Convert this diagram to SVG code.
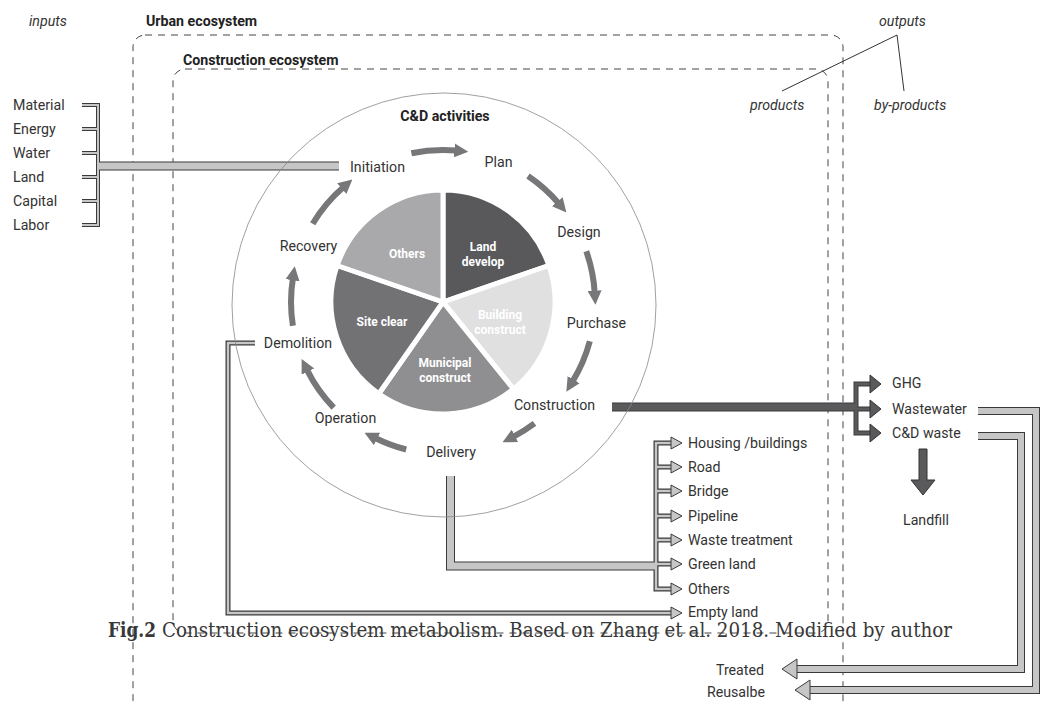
<svg xmlns="http://www.w3.org/2000/svg" width="1041" height="706" viewBox="0 0 1041 706">
<defs>
<style>
.t{font-family:Roboto,"Liberation Sans",sans-serif;font-size:14.2px;fill:#333}
.b{font-weight:bold;fill:#222}
.i{font-style:italic}
.m{text-anchor:middle}
.e{text-anchor:end}
.sl{font-family:Roboto,"Liberation Sans",sans-serif;font-size:12px;font-weight:bold;fill:#fff;text-anchor:middle}
.box{fill:none;stroke:#444;stroke-width:1;stroke-dasharray:7 6}
.dk{fill:none;stroke:#3a3a3a;stroke-linejoin:miter}
.lt{fill:none;stroke:#c6c6c6;stroke-linejoin:miter}
.dd{fill:none;stroke:#5a5a5c;stroke-linejoin:miter}
.arc{fill:none;stroke:#77777a;stroke-width:6;marker-end:url(#ah)}
.hl{fill:#c6c6c6;stroke:#3a3a3a;stroke-width:1}
.hd{fill:#5a5a5c;stroke:#333;stroke-width:1}
.cap{font-family:"DejaVu Serif Condensed","DejaVu Serif","Liberation Serif",serif;font-size:20.5px;fill:#383838}
</style>
<marker id="ah" viewBox="0 0 14 14" refX="2" refY="7" markerWidth="14" markerHeight="14" markerUnits="userSpaceOnUse" orient="auto">
<path d="M0,0 L14,7 L0,14 z" fill="#77777a"/>
</marker>
</defs>
<rect width="1041" height="706" fill="#fff"/>

<g id="boundaries">
<rect class="box" x="133" y="35" width="710" height="677" rx="12"/>
<rect class="box" x="173" y="69" width="655" height="564" rx="12"/>
<text class="t b" x="146" y="26">Urban ecosystem</text>
<text class="t b" x="183" y="65">Construction ecosystem</text>
<text class="t i" x="29" y="26">inputs</text>
<text class="t i" x="879" y="26">outputs</text>
<text class="t i" x="750" y="110">products</text>
<text class="t i" x="874" y="110">by-products</text>
<path d="M782,91 L897,35 L904,91" fill="none" stroke="#333" stroke-width="1"/>
</g>

<g id="connectors">
<path class="dk" stroke-width="4" d="M82,105 H98 V225 H82 M82,129 H98 M82,153 H98 M82,177 H98 M82,201 H98"/>
<path class="dk" stroke-width="9" d="M98,166 H339"/>
<path class="dk" stroke-width="5" d="M255,343 H228 V613 H672"/>
<path class="dk" stroke-width="9" d="M450.5,476 V566 H656"/>
<path class="dk" stroke-width="5" d="M672,443 H656 V589 H672 M656,467 H672 M656,491 H672 M656,516 H672 M656,540 H672 M656,564 H672"/>
<path class="dk" stroke-width="8" d="M978,411 H1036 V690 H808"/>
<path class="dk" stroke-width="8" d="M978,436 H1021 V669 H796"/>
<path class="lt" stroke-width="2" d="M82,105 H98 V225 H82 M82,129 H98 M82,153 H98 M82,177 H98 M82,201 H98"/>
<path class="lt" stroke-width="7" d="M97,166 H339"/>
<path class="lt" stroke-width="2.5" d="M255,343 H228 V613 H672"/>
<path class="lt" stroke-width="7" d="M450.5,476 V566 H656"/>
<path class="lt" stroke-width="2.5" d="M672,443 H656 V589 H672 M656,467 H672 M656,491 H672 M656,516 H672 M656,540 H672 M656,564 H672"/>
<path class="lt" stroke-width="6" d="M978,411 H1036 V690 H808"/>
<path class="lt" stroke-width="6" d="M978,436 H1021 V669 H796"/>
<polygon class="hl" points="671,437 682,443 671,449"/>
<polygon class="hl" points="671,461 682,467 671,473"/>
<polygon class="hl" points="671,485 682,491 671,497"/>
<polygon class="hl" points="671,510 682,516 671,522"/>
<polygon class="hl" points="671,534 682,540 671,546"/>
<polygon class="hl" points="671,558 682,564 671,570"/>
<polygon class="hl" points="671,583 682,589 671,595"/>
<polygon class="hl" points="671,607 682,613 671,619"/>
<polygon class="hl" points="797,659 782,669 797,679"/>
<polygon class="hl" points="810,680 795,690 810,700"/>
<path class="dk" stroke-width="9" d="M612,407 H856"/>
<path class="dk" stroke-width="5" d="M871,384 H856 V433 H871 M856,409 H871"/>
<path class="dd" stroke-width="7" d="M612,407 H856"/>
<path class="dd" stroke-width="3" d="M871,384 H856 V433 H871 M856,409 H871"/>
<polygon class="hd" points="870,375 881,384 870,393"/>
<polygon class="hd" points="870,400 881,409 870,418"/>
<polygon class="hd" points="870,424 881,433 870,442"/>
<path class="hd" d="M919,449 H927 V480 H935 L923,495 L911,480 H919 Z"/>
<path class="arc" d="M411.4,153.3 A152,152 0 0 1 456.3,150.6"/>
<path class="arc" d="M528.0,176.0 A152,152 0 0 1 558.6,203.3"/>
<path class="arc" d="M586.3,251.3 A152,152 0 0 1 594.7,292.7"/>
<path class="arc" d="M589.8,341.3 A152,152 0 0 1 572.6,381.4"/>
<path class="arc" d="M534.5,423.4 A152,152 0 0 1 513.2,436.8"/>
<path class="arc" d="M406.2,449.5 A152,152 0 0 1 375.2,438.0"/>
<path class="arc" d="M333.7,407.6 A152,152 0 0 1 307.0,369.8"/>
<path class="arc" d="M292.9,325.8 A152,152 0 0 1 292.9,278.2"/>
<path class="arc" d="M312.7,223.7 A152,152 0 0 1 343.3,187.3"/>
</g>

<g id="cd-activities">
<circle cx="444" cy="305" r="212" fill="none" stroke="#888" stroke-width="0.8"/>
<text class="t b m" x="445" y="121">C&amp;D activities</text>
</g>

<g id="pie">
<g stroke="#fff" stroke-width="5" stroke-linejoin="round">
<path id="land-develop" d="M443,302 L443,190 A112,112 0 0 1 548.9,265.5 Z" fill="#59595b"/>
<path id="building-construct" d="M443,302 L548.9,265.5 A112,112 0 0 1 513.5,389 Z" fill="#e0e0e1"/>
<path id="municipal-construct" d="M443,302 L513.5,389 A112,112 0 0 1 378.8,393.7 Z" fill="#8f8f92"/>
<path id="site-clear" d="M443,302 L378.8,393.7 A112,112 0 0 1 337.1,265.5 Z" fill="#727275"/>
<path id="others-slice" d="M443,302 L337.1,265.5 A112,112 0 0 1 443,190 Z" fill="#a9a9ab"/>
</g>
<text class="sl" x="407" y="258">Others</text>
<text class="sl" x="483" y="251">Land</text>
<text class="sl" x="483" y="266">develop</text>
<text class="sl" x="500" y="319" fill="#f6f6f6">Building</text>
<text class="sl" x="500" y="334" fill="#f6f6f6">construct</text>
<text class="sl" x="445" y="367">Municipal</text>
<text class="sl" x="445" y="382">construct</text>
<text class="sl" x="382" y="326">Site clear</text>
</g>

<g id="stages">
<text class="t m" x="377.5" y="172">Initiation</text>
<text class="t m" x="498.5" y="167">Plan</text>
<text class="t m" x="579" y="237">Design</text>
<text class="t m" x="596.5" y="328">Purchase</text>
<text class="t m" x="554.5" y="410">Construction</text>
<text class="t m" x="451" y="457">Delivery</text>
<text class="t m" x="345.5" y="423">Operation</text>
<text class="t m" x="298" y="348">Demolition</text>
<text class="t m" x="308.5" y="251">Recovery</text>
</g>

<g id="inputs">
<text class="t" x="13" y="110">Material</text>
<text class="t" x="13" y="134">Energy</text>
<text class="t" x="13" y="158">Water</text>
<text class="t" x="13" y="182">Land</text>
<text class="t" x="13" y="206">Capital</text>
<text class="t" x="13" y="230">Labor</text>
</g>

<g id="products">
<text class="t" x="688" y="448">Housing /buildings</text>
<text class="t" x="688" y="472">Road</text>
<text class="t" x="688" y="496">Bridge</text>
<text class="t" x="688" y="521">Pipeline</text>
<text class="t" x="688" y="545">Waste treatment</text>
<text class="t" x="688" y="569">Green land</text>
<text class="t" x="688" y="594">Others</text>
<text class="t" x="688" y="617">Empty land</text>
</g>

<g id="by-products">
<text class="t" x="892" y="388">GHG</text>
<text class="t" x="892" y="414">Wastewater</text>
<text class="t" x="892" y="438">C&amp;D waste</text>
<text class="t m" x="926" y="525">Landfill</text>
<text class="t e" x="764" y="675">Treated</text>
<text class="t e" x="765" y="697">Reusalbe</text>
</g>

<g id="caption">
<text class="cap" x="108" y="637" font-weight="bold" textLength="48" lengthAdjust="spacingAndGlyphs">Fig.2</text>
<text class="cap" x="162" y="637" textLength="790" lengthAdjust="spacingAndGlyphs">Construction ecosystem metabolism. Based on Zhang et al. 2018. Modified by author</text>
</g>
</svg>
